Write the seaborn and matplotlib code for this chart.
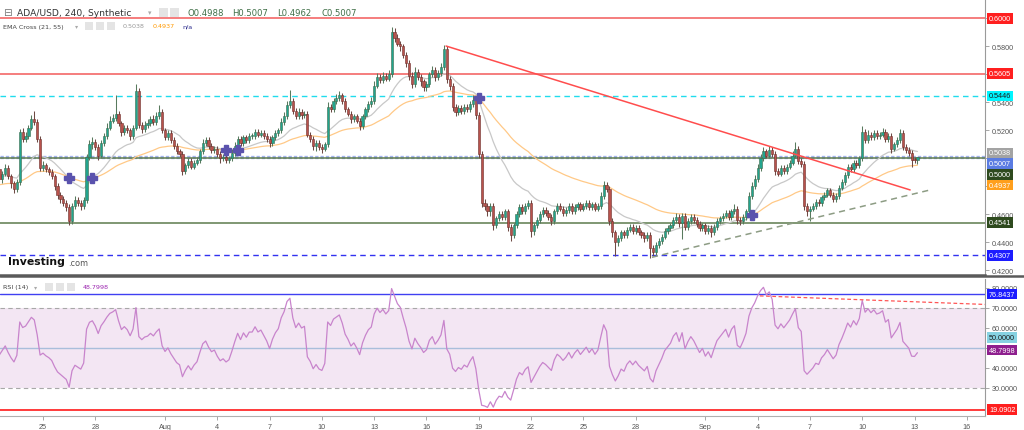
import numpy as np
import pandas as pd
import seaborn as sns
import matplotlib.pyplot as plt
import matplotlib.dates as mdates
import matplotlib.transforms as mtrans
from matplotlib.patches import Rectangle
from matplotlib.lines import Line2D

# 4h candles of ADA/USD, first one 2022-07-22 12:00, one row per day
start = '2022-07-22 12:00'
first_open = 0.492
close = [
    0.485, 0.489, 0.493,
    0.487, 0.482, 0.478, 0.483, 0.519, 0.514,   # Jul 23
    0.516, 0.522, 0.528, 0.526, 0.514, 0.493,
    0.495, 0.492, 0.490, 0.487, 0.480, 0.474,   # Jul 25
    0.471, 0.468, 0.465, 0.455, 0.466, 0.470,
    0.468, 0.466, 0.470, 0.501, 0.510, 0.512,
    0.508, 0.502, 0.511, 0.516, 0.522, 0.527,   # Jul 28
    0.529, 0.532, 0.525, 0.519, 0.522, 0.520,
    0.516, 0.522, 0.548, 0.524, 0.521, 0.524,
    0.525, 0.528, 0.526, 0.530, 0.533, 0.520,
    0.515, 0.518, 0.513, 0.509, 0.505, 0.503,   # Aug 1
    0.491, 0.495, 0.498, 0.494, 0.497, 0.499,
    0.505, 0.511, 0.513, 0.509, 0.506, 0.507,
    0.503, 0.500, 0.501, 0.499, 0.500, 0.504,   # Aug 4
    0.509, 0.514, 0.511, 0.515, 0.513, 0.516,
    0.516, 0.519, 0.517, 0.518, 0.516, 0.514,
    0.511, 0.515, 0.518, 0.520, 0.526, 0.530,   # Aug 7
    0.538, 0.541, 0.534, 0.530, 0.533, 0.531,
    0.532, 0.517, 0.514, 0.509, 0.511, 0.508,
    0.507, 0.510, 0.537, 0.535, 0.541, 0.543,   # Aug 10
    0.545, 0.541, 0.535, 0.532, 0.528, 0.530,
    0.527, 0.523, 0.530, 0.535, 0.539, 0.541,
    0.552, 0.558, 0.556, 0.559, 0.557, 0.560,   # Aug 13
    0.590, 0.586, 0.582, 0.580, 0.574, 0.568,
    0.559, 0.553, 0.562, 0.558, 0.555, 0.551,
    0.553, 0.560, 0.563, 0.558, 0.561, 0.565,   # Aug 16
    0.578, 0.557, 0.552, 0.537, 0.533, 0.536,
    0.534, 0.537, 0.535, 0.539, 0.542, 0.531,
    0.503, 0.468, 0.466, 0.462, 0.466, 0.452,   # Aug 19
    0.457, 0.460, 0.458, 0.462, 0.451, 0.445,
    0.452, 0.460, 0.465, 0.462, 0.466, 0.468,
    0.448, 0.452, 0.456, 0.460, 0.463, 0.461,   # Aug 22
    0.458, 0.455, 0.462, 0.466, 0.464, 0.461,
    0.463, 0.466, 0.462, 0.465, 0.467, 0.464,
    0.466, 0.468, 0.465, 0.467, 0.464, 0.466,   # Aug 25
    0.473, 0.481, 0.478, 0.455, 0.447, 0.440,
    0.443, 0.447, 0.445, 0.449, 0.451, 0.448,
    0.450, 0.447, 0.445, 0.443, 0.445, 0.436,   # Aug 28
    0.433, 0.438, 0.441, 0.444, 0.448, 0.450,
    0.452, 0.456, 0.458, 0.454, 0.459, 0.451,
    0.455, 0.458, 0.456, 0.453, 0.450, 0.452,
    0.448, 0.450, 0.447, 0.451, 0.455, 0.457,   # Sep 1
    0.459, 0.461, 0.458, 0.462, 0.464, 0.456,
    0.455, 0.458, 0.462, 0.473, 0.480, 0.485,
    0.493, 0.500, 0.505, 0.502, 0.506, 0.503,   # Sep 4
    0.491, 0.489, 0.493, 0.491, 0.494, 0.497,
    0.502, 0.507, 0.498, 0.496, 0.466, 0.462,
    0.464, 0.466, 0.469, 0.468, 0.472, 0.474,   # Sep 7
    0.477, 0.474, 0.471, 0.473, 0.479, 0.483,
    0.488, 0.494, 0.492, 0.497, 0.495, 0.500,
    0.519, 0.513, 0.517, 0.515, 0.518, 0.516,   # Sep 10
    0.517, 0.519, 0.514, 0.516, 0.507, 0.510,
    0.513, 0.518, 0.508, 0.506, 0.504, 0.499,
    0.4988, 0.5007,                             # Sep 13
]
# wick lengths above / below the body, in 0.001
up_wick = [
    2, 2, 3,
    2, 2, 2, 2, 2, 3,
    3, 2, 3, 6, 2, 2,
    3, 2, 2, 2, 2, 2,
    2, 2, 2, 2, 2, 3,
    2, 2, 2, 2, 3, 3,
    2, 2, 2, 2, 3, 3,
    3, 13, 2, 2, 2, 2,
    2, 2, 5, 2, 2, 3,
    3, 2, 3, 3, 5, 2,
    2, 2, 2, 2, 2, 2,
    2, 2, 2, 2, 2, 2,
    2, 3, 2, 2, 2, 2,
    2, 2, 2, 2, 2, 3,
    3, 2, 2, 2, 2, 2,
    2, 2, 2, 2, 2, 2,
    2, 2, 2, 2, 3, 3,
    3, 8, 2, 2, 3, 2,
    2, 2, 2, 2, 2, 2,
    2, 2, 3, 2, 2, 3,
    3, 2, 2, 2, 2, 2,
    2, 2, 2, 2, 2, 3,
    3, 3, 2, 3, 2, 3,
    4, 3, 3, 2, 2, 2,
    2, 3, 3, 2, 2, 2,
    2, 2, 3, 2, 2, 3,
    3, 2, 2, 2, 2, 2,
    2, 2, 2, 2, 3, 2,
    2, 2, 3, 2, 2, 2,
    2, 2, 2, 2, 2, 2,
    2, 2, 2, 2, 2, 2,
    2, 2, 2, 2, 2, 2,
    2, 2, 2, 2, 2, 2,
    2, 2, 2, 2, 2, 2,
    2, 2, 2, 2, 2, 2,
    3, 3, 2, 2, 2, 2,
    2, 2, 2, 2, 2, 2,
    2, 2, 2, 2, 2, 2,
    2, 2, 2, 2, 2, 2,
    2, 2, 3, 2, 2, 2,
    2, 2, 2, 2, 2, 2,
    2, 2, 2, 2, 2, 2,
    2, 2, 2, 2, 3, 2,
    2, 2, 2, 3, 3, 3,
    3, 3, 3, 2, 3, 2,
    2, 2, 2, 2, 2, 2,
    3, 5, 2, 2, 2, 2,
    2, 2, 2, 2, 2, 2,
    2, 2, 2, 2, 2, 2,
    2, 2, 2, 2, 2, 2,
    4, 2, 3, 2, 2, 2,
    2, 3, 2, 2, 2, 2,
    2, 3, 2, 2, 2, 2,
    2, 0,
]
dn_wick = [
    2, 3, 2,
    2, 3, 3, 2, 2, 2,
    2, 2, 2, 2, 2, 2,
    2, 2, 2, 2, 3, 3,
    3, 2, 3, 3, 2, 2,
    2, 3, 2, 2, 2, 3,
    2, 3, 2, 2, 2, 2,
    2, 2, 2, 3, 2, 2,
    3, 2, 2, 2, 3, 2,
    2, 2, 2, 2, 2, 2,
    2, 2, 2, 2, 2, 2,
    3, 2, 2, 2, 2, 2,
    2, 2, 2, 2, 2, 2,
    2, 3, 2, 2, 2, 2,
    2, 2, 2, 2, 2, 2,
    2, 2, 2, 2, 2, 2,
    3, 2, 2, 2, 2, 2,
    2, 2, 2, 2, 2, 3,
    2, 2, 2, 3, 4, 2,
    3, 2, 2, 2, 2, 2,
    2, 2, 2, 2, 3, 2,
    2, 3, 2, 2, 2, 2,
    2, 2, 2, 2, 2, 2,
    2, 3, 2, 3, 2, 3,
    3, 3, 2, 2, 3, 3,
    3, 2, 2, 3, 2, 2,
    2, 3, 3, 3, 3, 2,
    2, 2, 2, 2, 2, 3,
    3, 3, 3, 3, 3, 3,
    2, 2, 2, 2, 3, 4,
    2, 2, 2, 2, 2, 2,
    4, 3, 2, 2, 2, 2,
    2, 3, 2, 2, 2, 2,
    2, 2, 2, 2, 2, 2,
    2, 2, 2, 2, 2, 2,
    2, 2, 2, 3, 3, 10,
    3, 2, 2, 2, 2, 2,
    2, 2, 2, 3, 2, 7,
    3, 2, 2, 2, 2, 2,
    2, 2, 2, 3, 12, 2,
    2, 2, 2, 2, 2, 2,
    2, 2, 3, 2, 2, 2,
    2, 2, 2, 2, 2, 3,
    3, 2, 2, 2, 2, 2,
    2, 2, 2, 2, 2, 2,
    3, 2, 2, 2, 2, 2,
    2, 2, 2, 2, 3, 3,
    7, 2, 2, 2, 2, 2,
    2, 2, 2, 2, 2, 2,
    2, 2, 2, 2, 2, 2,
    2, 2, 2, 2, 2, 2,
    2, 2, 2, 2, 3, 2,
    2, 2, 2, 2, 2, 5,
    2, 2.6,
]
# indicator values at the left edge of the chart
ema_seed = {21: 0.487, 55: 0.481}
rsi_seed = (0.0035, 0.0035)

# horizontal levels and label values
red_levels = [0.6000, 0.5605]
cyan_level = 0.5446
price_now = 0.5007
green_levels = [0.5000, 0.4541]
blue_level = 0.4307
ema_last = [0.5038, 0.4937]
ohlc_last = ['0.4988', '0.5007', '0.4962', '0.5007']
rsi_blue = 76.8437
rsi_red = 19.0902
rsi_last = 48.7998

# drawn trend lines (time, value)
red_trend_t = ['2022-08-17 03:00', '2022-09-12 18:00']
red_trend_p = [0.5802, 0.4774]
sup_trend_t = ['2022-08-28 22:30', '2022-09-13 21:30']
sup_trend_p = [0.4293, 0.4774]
rsi_trend_t = ['2022-09-04 03:00', '2022-09-18 01:00']
rsi_trend_v = [75.9, 71.3]

price_ticks = [0.42, 0.44, 0.46, 0.48, 0.50, 0.52, 0.54, 0.56, 0.58, 0.60]
rsi_ticks = [30, 40, 50, 60, 70, 80]
date_ticks = ['2022-07-25', '2022-07-28', '2022-08-01', '2022-08-04', '2022-08-07',
              '2022-08-10', '2022-08-13', '2022-08-16', '2022-08-19', '2022-08-22',
              '2022-08-25', '2022-08-28', '2022-09-01', '2022-09-04', '2022-09-07',
              '2022-09-10', '2022-09-13', '2022-09-16']
date_labels = ['25', '28', 'Aug', '4', '7', '10', '13', '16', '19', '22', '25', '28',
               'Sep', '4', '7', '10', '13', '16']

# ---- build the frame
df = pd.DataFrame({'close': close})
df['time'] = pd.date_range(start, periods=len(df), freq='4h')
df['x'] = mdates.date2num(df['time'])
df['open'] = df['close'].shift(1).fillna(first_open)
df['high'] = df[['open', 'close']].max(axis=1) + np.array(up_wick) / 1000
df['low'] = df[['open', 'close']].min(axis=1) - np.array(dn_wick) / 1000
for n, seed in ema_seed.items():
    s = pd.concat([pd.Series([seed]), df['close']], ignore_index=True)
    df[f'ema{n}'] = s.ewm(span=n, adjust=False).mean().iloc[1:].values

ag, al = rsi_seed
rsi = []
prev = first_open
for c in df['close']:
    d = c - prev
    ag = (ag * 13 + max(d, 0)) / 14
    al = (al * 13 + max(-d, 0)) / 14
    rsi.append(100 - 100 / (1 + ag / al))
    prev = c
df['rsi'] = rsi

# ---- figure
sns.set_theme(style='white')
plt.rcParams['font.family'] = ['Liberation Sans', 'DejaVu Sans']

W, H = 1024, 431
fig = plt.figure(figsize=(W / 100, H / 100), dpi=100)
fig.patch.set_facecolor('white')
ax = fig.add_axes([0, 1 - 276 / H, 985 / W, 276 / H])
ax2 = fig.add_axes([0, 1 - 417 / H, 985 / W, 137 / H])

x0 = mdates.date2num(pd.Timestamp('2022-07-25') - pd.Timedelta(days=2.467))
x1 = mdates.date2num(pd.Timestamp('2022-07-25') + pd.Timedelta(days=54.044))

# levels
for lv in red_levels:
    ax.axhline(lv, color='#f25a5a', lw=1.1, zorder=1)
ax.axhline(cyan_level, color='#20dced', lw=1, ls=(0, (4, 3)), zorder=1)
ax.axhline(price_now, color='#a3b4ee', lw=2.4, ls=(0, (1, 0.6)), zorder=1)
for lv in green_levels:
    ax.axhline(lv, color='#5d7a4d', lw=1.1, zorder=1)
ax.axhline(blue_level, color='#3232f0', lw=1, ls=(0, (4, 3)), zorder=1)

# EMAs
sns.lineplot(data=df, x='x', y='ema21', ax=ax, color='#c8c8c8', lw=0.9, zorder=2)
sns.lineplot(data=df, x='x', y='ema55', ax=ax, color='#ffc987', lw=0.9, zorder=2)

# candles
rise = (df['close'] >= df['open']).values
body_lo = df[['open', 'close']].min(axis=1).values
body_h = np.maximum((df['close'] - df['open']).abs().values, 0.0004)
for m, fc, ec, wc in [(rise, '#22a48e', '#3e6b4c', '#587a5e'),
                      (~rise, '#b8524c', '#6d2f2b', '#6e4a44')]:
    ax.vlines(df['x'].values[m], df['low'].values[m], df['high'].values[m],
              color=wc, lw=0.75, zorder=3)
    ax.bar(df['x'].values[m], body_h[m], bottom=body_lo[m], width=0.125,
           color=fc, edgecolor=ec, linewidth=0.4, zorder=4)

# EMA cross markers
sgn = np.sign(df['ema21'] - df['ema55']).values
cross = np.where(np.diff(sgn) != 0)[0] + 1
ax.plot(df['x'].values[cross], df['ema55'].values[cross], ls='none', marker='P',
        ms=6.5, color='#5a52ad', mec='#5a52ad', zorder=6)

# trend lines
ax.plot(mdates.date2num(pd.to_datetime(red_trend_t)), red_trend_p,
        color='#ff4d4d', lw=1.1, zorder=5)
ax.plot(mdates.date2num(pd.to_datetime(sup_trend_t)), sup_trend_p,
        color='#8d9c84', lw=1.1, ls=(0, (4, 3)), zorder=5)

# tick labels hidden under a value tag are left blank
covered_p = [0.48, 0.50, 0.56, 0.60]
covered_r = [50]

ax.set_xlim(x0, x1)
ax.set_ylim(0.41664, 0.61379)
ax.set_xlabel('')
ax.set_ylabel('')
ax.set_xticks([])
ax.yaxis.tick_right()
ax.set_yticks(price_ticks)
ax.set_yticklabels(['' if v in covered_p else f'{v:.4f}' for v in price_ticks])
for a in (ax, ax2):
    a.set_facecolor('white')
    a.tick_params(axis='y', which='both', right=True, length=3, width=0.6, color='#999999',
                  labelsize=5.2, labelcolor='#555555', pad=2)
    for sp in ('left', 'top'):
        a.spines[sp].set_visible(False)
    a.spines['right'].set_color('#9a9a9a')
    a.spines['right'].set_linewidth(0.8)
ax.spines['bottom'].set_color('#5a5a5a')
ax.spines['bottom'].set_linewidth(1.8)

# ---- RSI panel
ax2.axhspan(30, 70, color='#f3e6f3', lw=0, zorder=0)
ax2.axhline(70, color='#a8a8a8', lw=0.8, ls=(0, (4, 3)), zorder=1)
ax2.axhline(30, color='#a8a8a8', lw=0.8, ls=(0, (4, 3)), zorder=1)
ax2.axhline(50, color='#a9bedb', lw=1, zorder=1)
ax2.axhline(rsi_blue, color='#4040f2', lw=1, zorder=1)
ax2.axhline(rsi_red, color='#ff3a3a', lw=1.4, zorder=1)
sns.lineplot(data=df, x='x', y='rsi', ax=ax2, color='#c884cc', lw=0.9, zorder=3)
ax2.plot(mdates.date2num(pd.to_datetime(rsi_trend_t)), rsi_trend_v,
         color='#ff5555', lw=0.9, ls=(0, (3, 2)), zorder=4)
ax2.set_xlim(x0, x1)
ax2.set_ylim(15.85, 84.35)
ax2.set_xlabel('')
ax2.set_ylabel('')
ax2.yaxis.tick_right()
ax2.set_yticks(rsi_ticks)
ax2.set_yticklabels(['' if v in covered_r else f'{v:.4f}' for v in rsi_ticks])
ax2.set_xticks(mdates.date2num(pd.to_datetime(date_ticks)))
ax2.set_xticklabels(date_labels)
ax2.tick_params(axis='x', bottom=True, length=3, width=0.6, color='#999999',
                labelsize=5.2, labelcolor='#555555', pad=2)
ax2.spines['bottom'].set_color('#b0b0b0')
ax2.spines['bottom'].set_linewidth(0.8)


def tag(a, y, text, fc, tc='white', dy=0):
    tr = mtrans.blended_transform_factory(a.transAxes, a.transData)
    tr = tr + mtrans.ScaledTranslation(0, dy / 100, fig.dpi_scale_trans)
    a.text(1.0 + 4 / 985, y, text, transform=tr, ha='left', va='center',
           fontsize=5.2, color=tc, clip_on=False, zorder=20,
           bbox=dict(boxstyle='square,pad=0.25', fc=fc, ec='none'))


tag(ax, red_levels[0], f'{red_levels[0]:.4f}', '#ff1f1f')
tag(ax, red_levels[1], f'{red_levels[1]:.4f}', '#ff1f1f')
tag(ax, cyan_level, f'{cyan_level:.4f}', '#00f5ff', tc='#1a1a1a')
tag(ax, ema_last[0], f'{ema_last[0]:.4f}', '#a3a3a3')
tag(ax, price_now, f'{price_now:.4f}', '#5a7ce2', dy=-6)
tag(ax, green_levels[0], f'{green_levels[0]:.4f}', '#2e4a1e', dy=-16)
tag(ax, ema_last[1], f'{ema_last[1]:.4f}', '#ff9f1c', dy=-18)
tag(ax, green_levels[1], f'{green_levels[1]:.4f}', '#2e4a1e')
tag(ax, blue_level, f'{blue_level:.4f}', '#1c1cff')
tag(ax2, rsi_blue, f'{rsi_blue:.4f}', '#1c1cff')
tag(ax2, 50, '50.0000', '#86d2e2', tc='#1a1a1a', dy=10)
tag(ax2, rsi_last, f'{rsi_last:.4f}', '#8e1f8e')
tag(ax2, rsi_red, f'{rsi_red:.4f}', '#ff1f1f')

# separator across the full width
fig.add_artist(Line2D([0, 1], [1 - 277 / H] * 2, color='#5a5a5a', lw=1.8,
                      transform=fig.transFigure))


def ftext(x, y, s, **kw):
    fig.text(x / W, 1 - y / H, s, ha='left', va='center', **kw)


def icon(x, y, w=9, h=9):
    fig.add_artist(Rectangle((x / W, 1 - (y + h / 2) / H), w / W, h / H,
                             transform=fig.transFigure, fc='#e4e4e4', ec='none'))


# header
ftext(3, 13, '⊟', fontsize=7.5, color='#777777', family='DejaVu Sans')
ftext(17, 13, 'ADA/USD, 240, Synthetic', fontsize=6.6, color='#333333',
      family='DejaVu Sans')
ftext(148, 13, '▾', fontsize=5, color='#aaaaaa', family='DejaVu Sans')
icon(159, 13)
icon(170, 13)
for xp, k, v in zip([187, 232, 277, 322], 'OHLC', ohlc_last):
    ftext(xp, 13, k + v, fontsize=6.1, color='#3f6f47', family='DejaVu Sans')

ftext(3, 27, 'EMA Cross (21, 55)', fontsize=4.6, color='#444444', family='DejaVu Sans')
ftext(75, 27, '▾', fontsize=4.5, color='#aaaaaa', family='DejaVu Sans')
for xp in (85, 96, 107):
    icon(xp, 27, 8, 8)
ftext(123, 27, f'{ema_last[0]:.4f}', fontsize=4.6, color='#999999', family='DejaVu Sans')
ftext(153, 27, f'{ema_last[1]:.4f}', fontsize=4.6, color='#ff9900', family='DejaVu Sans')
ftext(182, 27, 'n/a', fontsize=4.6, color='#2a2a8c', family='DejaVu Sans')

ftext(3, 288, 'RSI (14)', fontsize=4.6, color='#444444', family='DejaVu Sans')
ftext(34, 288, '▾', fontsize=4.5, color='#aaaaaa', family='DejaVu Sans')
for xp in (45, 56, 67):
    icon(xp, 288, 8, 8)
ftext(83, 288, f'{rsi_last:.4f}', fontsize=4.6, color='#9c27b0', family='DejaVu Sans')

# logo
ftext(8, 262, 'Investing', fontsize=7.8, color='#111111', weight='bold',
      family='DejaVu Sans')
ftext(68, 263, '.com', fontsize=5.9, color='#555555', family='DejaVu Sans')

fig.savefig('out.png', dpi=100)
